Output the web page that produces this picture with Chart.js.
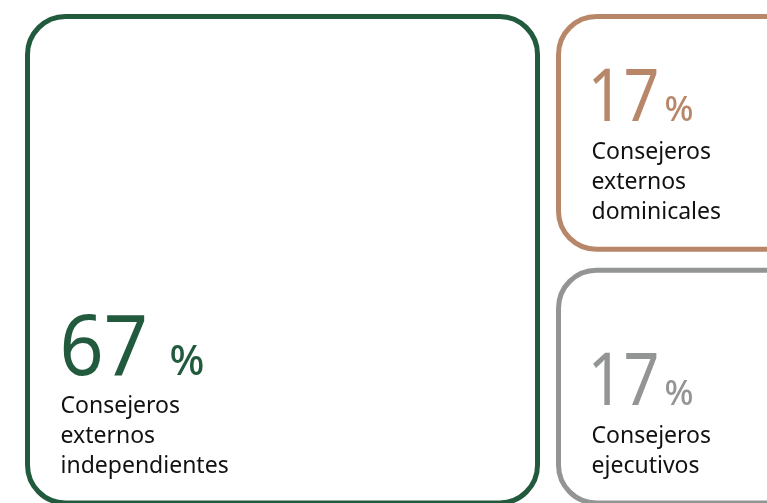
<!DOCTYPE html>
<html>
<head>
<meta charset="utf-8">
<script src="https://cdn.jsdelivr.net/npm/chart.js@4"></script>
<style>
  html, body { margin: 0; padding: 0; background: #fff; }
  canvas { display: block; }
</style>
</head>
<body>
<canvas id="board-chart" width="767" height="503"></canvas>
<script>
// composición del consejo (%)
const categories = ['Consejeros externos independientes', 'Consejeros externos dominicales', 'Consejeros ejecutivos'];
const labelLines = [
    ['Consejeros', 'externos', 'independientes'],
    ['Consejeros', 'externos', 'dominicales'],
    ['Consejeros', 'ejecutivos']
];
const values = [67, 17, 17];
const colors = ['#225a3e', '#b8876a', '#929593'];

// treemap sencillo: el primero ocupa la columna izquierda, el resto se apila a la derecha
function layoutCells(vals) {
    const total = vals.reduce((a, b) => a + b, 0);
    const rest = total - vals[0];
    const cells = [{ x0: 0, x1: vals[0], y0: 0, y1: 1 }];
    let top = 1;
    for (let i = 1; i < vals.length; i++) {
        const h = vals[i] / rest;
        cells.push({ x0: vals[0], x1: total, y0: top - h, y1: top });
        top -= h;
    }
    return cells;
}

const cells = layoutCells(values);

const boxesPlugin = {
    id: 'boxes',
    afterDatasetsDraw(chart) {
        const { ctx, scales: { x, y } } = chart;
        const gap = 10.5;
        ctx.save();
        cells.forEach((c, i) => {
            const left = x.getPixelForValue(c.x0) + gap;
            const right = x.getPixelForValue(c.x1) - gap;
            const top = y.getPixelForValue(c.y1) + gap;
            const bottom = y.getPixelForValue(c.y0) - gap;

            ctx.beginPath();
            ctx.roundRect(left, top, right - left, bottom - top, 38);
            ctx.fillStyle = '#fff';
            ctx.fill();
            ctx.lineWidth = 5;
            ctx.strokeStyle = colors[i];
            ctx.stroke();

            // textos, alineados abajo a la izquierda
            const big = values[i] > 50;
            const tx = left + 33;
            const lines = labelLines[i];
            const base = bottom - 30 - (lines.length - 1) * 30;
            ctx.textBaseline = 'alphabetic';
            ctx.textAlign = 'left';

            const numBase = base - 38;
            ctx.fillStyle = colors[i];
            ctx.font = (big ? 84 : 73) + 'px "Noto Sans"';
            ctx.save();
            ctx.translate(tx - (big ? 1 : 4), numBase);
            ctx.scale(big ? 0.92 : 0.86, 1);
            ctx.fillText(String(values[i]), 0, 0);
            ctx.restore();
            ctx.font = '500 ' + (big ? 41 : 34) + 'px "Noto Sans"';
            ctx.fillText('%', tx + (big ? 109 : 73), numBase);

            ctx.fillStyle = '#111';
            ctx.font = '23px "Noto Sans"';
            lines.forEach((l, k) => ctx.fillText(l, tx, base + k * 30));
        });
        ctx.restore();
    }
};

const ctx = document.getElementById('board-chart').getContext('2d');
new Chart(ctx, {
    type: 'scatter',
    data: {
        labels: categories,
        datasets: [{
            label: 'Consejo',
            data: cells.map((c, i) => ({ x: (c.x0 + c.x1) / 2, y: (c.y0 + c.y1) / 2, v: values[i] })),
            pointRadius: 0
        }]
    },
    options: {
        responsive: false,
        animation: false,
        layout: { padding: 0 },
        plugins: { legend: { display: false }, tooltip: { enabled: false } },
        scales: {
            x: { type: 'linear', display: false, min: -2.145, max: 94.63 },
            y: { type: 'linear', display: false, min: 0.0207, max: 1.0118 }
        }
    },
    plugins: [boxesPlugin]
});
</script>
</body>
</html>
